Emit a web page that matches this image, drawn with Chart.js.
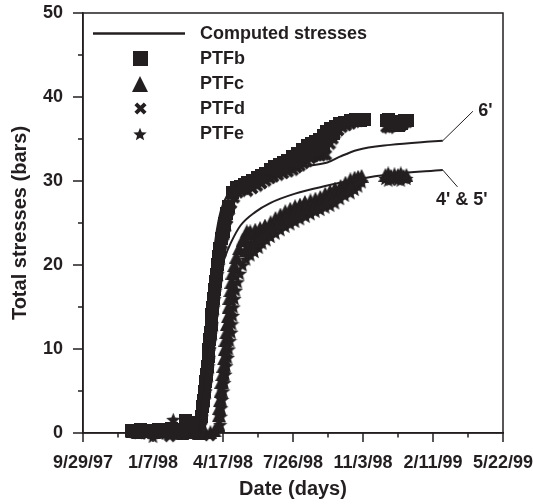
<!DOCTYPE html>
<html>
<head>
<meta charset="utf-8">
<script src="https://cdn.jsdelivr.net/npm/chart.js@4.4.1/dist/chart.umd.min.js"></script>
<style>
  body { margin: 0; background: #fff; }
  canvas { display: block; }
</style>
</head>
<body>
<canvas id="chart" width="533" height="504"></canvas>
<script>
// x values are days counted from 9/29/97
const dateLabels = ['9/29/97', '1/7/98', '4/17/98', '7/26/98', '11/3/98', '2/11/99', '5/22/99'];

// PTFb - squares (upper band: baseline, rise, top edge, late cluster, middle)
const ptfbDays = [69, 75, 82, 88, 95, 101, 108, 114, 121, 127, 134, 140, 147, 153, 160, 166,
  167, 168.6, 170.2, 171.9, 173.7, 175.4, 176.3, 177.7, 178.9, 179.9, 181, 182, 183, 184.1, 185.3, 186.3, 187.7, 189.1, 190.6, 192.1, 194, 195.7, 197.6, 200.1, 202.7, 205.3, 207.9, 213, 219,
  225, 230, 235, 242, 249, 255, 261, 268, 274, 280, 286, 292, 299, 306, 313, 320, 326, 332, 338, 343, 348, 353, 360, 367, 374, 382, 389, 396, 402,
  433, 437, 441, 446, 451, 455, 459, 463,
  306, 313, 320, 326, 332, 338, 343, 348, 353, 358];
const ptfbVals = [0.3, 0.2, 0.4, 0.2, 0.3, 0.2, 0.4, 0.3, 0.2, 0.5, 0.3, 0.4, 1.5, 1.3, 0.6, 0.4,
  1.1, 2.0, 3.1, 3.9, 5.0, 6.1, 7.0, 7.9, 9.1, 10.0, 11.1, 12.0, 12.9, 14.1, 15.0, 16.0, 17.1, 18.0, 18.9, 20.1, 21.0, 22.0, 23.1, 24.0, 25.0, 26.1, 27.0, 28.6, 29.2,
  29.4, 29.6, 29.8, 30.1, 30.4, 30.7, 30.9, 31.4, 31.7, 32.0, 32.2, 32.4, 32.9, 33.3, 33.8, 34.2, 34.5, 34.7, 35.0, 35.4, 35.9, 36.2, 36.5, 36.8, 37.0, 37.2, 37.3, 37.2, 37.3,
  37.2, 37.3, 37.1, 36.8, 36.6, 36.9, 37.2, 37.2,
  32.5, 33.0, 33.3, 33.7, 33.9, 34.2, 34.3, 34.8, 35.3, 35.7];

// PTFc - triangles (lower band: baseline, rise, top edge, late cluster, middle)
const ptfcDays = [70, 78, 86, 94, 102, 110, 118, 126, 134, 142, 150, 158, 166, 174, 182, 188,
  193.5, 194, 194.5, 195.5, 196.5, 197.5, 199, 200.5, 201.5, 202.5, 203.5, 204.7, 205.7, 206.9, 208, 209, 210.5, 212, 213.5, 216, 219, 223, 228, 231, 234, 237,
  239, 246, 253, 260, 268, 275, 282, 289, 296, 303, 310, 317, 325, 332, 339, 346, 353, 360, 368, 375, 382, 388, 393, 398,
  432, 436, 440, 445, 450, 454, 458, 462,
  232, 240, 247, 253, 260, 268, 275, 282, 289, 296, 303, 310, 318, 325, 332, 339, 346, 353, 360, 368, 375, 382];
const ptfcVals = [0.2, 0.1, 0.3, 0.2, 0.1, 0.3, 0.2, 0.1, 0.2, 0.0, 0.1, 0.2, 0.0, 0.2, 0.1, 0.3,
  1.0, 2.1, 3.0, 3.9, 5.0, 6.1, 7.0, 8.0, 8.9, 10.0, 11.1, 12.0, 13.0, 13.9, 15.0, 16.1, 17.0, 18.0, 19.1, 20.0, 21.0, 22.0, 23.0, 23.3, 24.0, 23.8,
  24.0, 24.2, 24.4, 24.7, 25.1, 25.6, 26.0, 26.4, 26.7, 27.0, 27.2, 27.5, 27.7, 27.9, 28.1, 28.5, 28.8, 29.1, 29.4, 29.8, 30.2, 30.4, 30.5, 30.6,
  30.7, 30.9, 30.6, 30.8, 30.7, 30.9, 30.6, 30.7,
  21.8, 22.5, 23.0, 23.5, 24.0, 24.5, 25.0, 25.3, 25.6, 25.9, 26.2, 26.5, 26.8, 27.0, 27.2, 27.4, 27.7, 28.0, 28.3, 28.7, 29.0, 29.4];

// PTFd - crosses (upper band: baseline, rise, bottom edge, late cluster)
const ptfdDays = [72, 79, 85, 92, 98, 105, 111, 118, 124, 131, 137, 144, 150, 157, 163, 169, 175, 181,
  167.5, 169.5, 171, 172.8, 174.5, 176.2, 177.5, 178.8, 180, 181.2, 182.2, 183.3, 184.3, 185.4, 186.5, 187.6, 188.8, 190.2, 191.7, 193.2, 195, 196.8, 198.8, 201.2, 203.8, 206.4, 209, 212, 216, 221,
  225, 230, 235, 242, 249, 255, 261, 267, 272, 279, 286, 293, 300, 305, 310, 315, 320, 325, 329, 334, 339, 344, 347.5, 353, 357, 360, 365, 370, 376, 382, 388, 393, 398, 402,
  433, 437, 441, 446, 451, 455, 459, 463];
const ptfdVals = [0.1, 0.0, 0.1, -0.1, 0.0, 0.1, 0.0, -0.1, -0.4, -0.8, -0.9, -1.0, -0.9, -1.0, -0.9, -0.8, -0.6, -0.3,
  0.5, 1.5, 2.5, 3.5, 4.5, 5.5, 6.5, 7.5, 8.5, 9.5, 10.5, 11.5, 12.5, 13.5, 14.5, 15.5, 16.5, 17.5, 18.5, 19.5, 20.5, 21.5, 22.5, 23.5, 24.5, 25.5, 26.5, 27.3, 28.0, 28.6,
  29.3, 29.0, 28.8, 29.1, 29.4, 29.7, 30.0, 30.3, 30.5, 30.7, 30.9, 31.1, 31.3, 31.6, 31.8, 32.1, 32.3, 32.7, 32.9, 33.0, 33.0, 33.1, 33.1, 34.4, 35.0, 35.6, 36.0, 36.4, 36.6, 36.8, 37.0, 37.1, 37.2, 37.3,
  36.4, 36.3, 36.5, 36.7, 36.8, 36.6, 36.9, 37.0];

// PTFe - stars (lower band: baseline, rise, bottom edge, late cluster)
const ptfeDays = [67, 100, 129, 136, 171, 186,
  196, 197, 197.6, 199, 200.5, 202, 203.5, 205, 207, 208.5, 210, 212, 213, 214.2, 215.2, 216.5, 218.5, 221, 224, 228, 233,
  239, 245, 251, 256, 262, 268, 275, 282, 289, 296, 303, 310, 318, 325, 332, 339, 346, 353, 360, 367, 374, 382, 388, 393, 398,
  432, 436, 440, 445, 450, 454, 458, 462];
const ptfeVals = [-0.9, -0.4, 1.6, -0.9, -1.0, -0.6,
  1.0, 2.0, 3.0, 4.0, 5.0, 6.0, 7.0, 8.0, 9.0, 10.0, 11.0, 12.0, 13.0, 14.0, 15.0, 16.0, 17.0, 18.0, 19.0, 20.0, 20.7,
  21.2, 21.6, 22.1, 22.6, 23.0, 23.4, 23.8, 24.2, 24.6, 24.9, 25.2, 25.5, 25.8, 26.1, 26.4, 26.6, 26.9, 27.1, 27.4, 27.9, 28.3, 28.6, 29.0, 29.4, 29.9,
  30.3, 30.1, 30.2, 30.4, 30.2, 30.1, 30.4, 30.3];

// computed stresses
const comp6Days = [166, 172, 178, 184, 190, 197, 206, 220, 240, 270, 310, 349, 367, 392, 439, 496, 514];
const comp6Vals = [0, 6, 13, 19, 23.5, 26.5, 28.3, 29.5, 30.3, 31.0, 31.7, 32.2, 32.9, 33.7, 34.3, 34.7, 34.8];
const comp45Days = [166, 172, 178, 185, 195, 203, 211, 225, 246, 268, 303, 346, 392, 439, 514];
const comp45Vals = [0, 5, 10, 15, 19, 21, 22.6, 24.7, 26.3, 27.4, 28.5, 29.4, 30.2, 30.8, 31.3];

// depth notes with leader lines
const noteTexts = ["6'", "4' & 5'"];
const noteFromDays = [514, 514];
const noteFromVals = [34.8, 31.3];
const noteToDays = [557, 535];
const noteToVals = [38.3, 29.3];
const noteTextDays = [575, 541];
const noteTextVals = [38.3, 27.7];

const ink = '#231f20';
const fontFam = "'Liberation Sans', Arial, sans-serif";

function pts(days, vals) {
  return days.map((d, i) => ({ x: d, y: vals[i] }));
}

function marker(kind, size) {
  const c = document.createElement('canvas');
  c.width = size; c.height = size;
  const g = c.getContext('2d');
  g.fillStyle = ink; g.strokeStyle = ink;
  if (kind === 'square') {
    g.fillRect(0, 0, size, size);
  } else if (kind === 'triangle') {
    g.beginPath(); g.moveTo(size / 2, 0); g.lineTo(size, size); g.lineTo(0, size); g.closePath(); g.fill();
  } else if (kind === 'cross') {
    const p = size * 0.14;
    g.lineWidth = size * 0.3;
    g.beginPath(); g.moveTo(p, p); g.lineTo(size - p, size - p); g.moveTo(size - p, p); g.lineTo(p, size - p); g.stroke();
  } else {
    const r = size / 2, ri = r * 0.44, cx = size / 2, cy = size / 2 + size * 0.05;
    g.beginPath();
    for (let i = 0; i < 10; i++) {
      const a = -Math.PI / 2 + i * Math.PI / 5;
      const rr = i % 2 ? ri : r;
      g.lineTo(cx + rr * Math.cos(a), cy + rr * Math.sin(a));
    }
    g.closePath(); g.fill();
  }
  return c;
}

function scatterSet(label, days, vals, kind, size, legendSize) {
  return {
    type: 'scatter', label, data: pts(days, vals),
    pointStyle: marker(kind, size), legendMark: marker(kind, legendSize),
    borderColor: ink, backgroundColor: ink, clip: false
  };
}

function lineSet(label, days, vals, inLegend) {
  return {
    type: 'line', label, data: pts(days, vals), inLegend,
    borderColor: ink, borderWidth: 2, pointRadius: 0, fill: false,
    cubicInterpolationMode: 'monotone'
  };
}

const frameAndTicks = {
  id: 'frameAndTicks',
  beforeDatasetsDraw(chart) {
    const { ctx, chartArea: a, scales: { x, y } } = chart;
    ctx.save();
    ctx.strokeStyle = ink; ctx.lineWidth = 1.5;
    ctx.strokeRect(a.left, a.top, a.right - a.left, a.bottom - a.top);
    ctx.beginPath();
    for (let v = x.min; v <= x.max; v += 50) {
      const px = x.getPixelForValue(v);
      ctx.moveTo(px, a.bottom); ctx.lineTo(px, a.bottom + (v % 100 === 0 ? 9 : 4.5));
    }
    for (let v = y.min; v <= y.max; v += 5) {
      const py = y.getPixelForValue(v);
      ctx.moveTo(a.left, py); ctx.lineTo(a.left - (v % 10 === 0 ? 10 : 5), py);
    }
    ctx.stroke();
    ctx.restore();
  }
};

const legendInside = {
  id: 'legendInside',
  afterDraw(chart) {
    const { ctx, chartArea: a } = chart;
    ctx.save();
    ctx.font = 'bold 18px ' + fontFam;
    ctx.fillStyle = ink; ctx.strokeStyle = ink;
    ctx.textBaseline = 'middle';
    let row = 0;
    chart.data.datasets.forEach(ds => {
      if (ds.type === 'line' && !ds.inLegend) return;
      const cy = a.top + 20.5 + row * 25;
      if (ds.type === 'line') {
        ctx.lineWidth = 2.5;
        ctx.beginPath(); ctx.moveTo(a.left + 10, cy); ctx.lineTo(a.left + 102, cy); ctx.stroke();
      } else {
        const m = ds.legendMark;
        ctx.drawImage(m, Math.round(a.left + 57 - m.width / 2), Math.round(cy - m.height / 2));
      }
      ctx.fillText(ds.label, a.left + 117, cy + 1);
      row++;
    });
    ctx.restore();
  }
};

const depthNotes = {
  id: 'depthNotes',
  afterDraw(chart) {
    const { ctx, scales: { x, y } } = chart;
    ctx.save();
    ctx.strokeStyle = ink; ctx.fillStyle = ink; ctx.lineWidth = 1;
    ctx.font = 'bold 18px ' + fontFam;
    ctx.textAlign = 'center'; ctx.textBaseline = 'middle';
    noteTexts.forEach((t, i) => {
      ctx.beginPath();
      ctx.moveTo(x.getPixelForValue(noteFromDays[i]), y.getPixelForValue(noteFromVals[i]));
      ctx.lineTo(x.getPixelForValue(noteToDays[i]), y.getPixelForValue(noteToVals[i]));
      ctx.stroke();
      ctx.fillText(t, x.getPixelForValue(noteTextDays[i]), y.getPixelForValue(noteTextVals[i]));
    });
    ctx.restore();
  }
};

const tickFont = { family: fontFam, size: 18, weight: 'bold' };
const titleFont = { family: fontFam, size: 20, weight: 'bold' };

new Chart(document.getElementById('chart').getContext('2d'), {
  data: {
    datasets: [
      lineSet('Computed stresses', comp6Days, comp6Vals, true),
      lineSet('Computed 4-5', comp45Days, comp45Vals, false),
      scatterSet('PTFb', ptfbDays, ptfbVals, 'square', 13, 15),
      scatterSet('PTFc', ptfcDays, ptfcVals, 'triangle', 14, 16),
      scatterSet('PTFd', ptfdDays, ptfdVals, 'cross', 13, 13),
      scatterSet('PTFe', ptfeDays, ptfeVals, 'star', 15, 14)
    ]
  },
  options: {
    responsive: false,
    animation: false,
    layout: { padding: { top: 13, right: 30, left: 0, bottom: 0 } },
    plugins: { legend: { display: false }, tooltip: { enabled: false } },
    scales: {
      x: {
        type: 'linear', position: 'bottom', min: 0, max: 600,
        afterFit: s => { s.height = 71; s.paddingLeft = 0; s.paddingRight = 0; },
        grid: { display: false, drawTicks: false },
        border: { display: true, color: ink, width: 1.5 },
        ticks: {
          stepSize: 100, autoSkip: false, maxRotation: 0, padding: 19,
          color: ink, font: tickFont,
          callback: v => dateLabels[v / 100]
        },
        title: { display: true, text: 'Date (days)', color: ink, font: titleFont, padding: { bottom: 3 } }
      },
      y: {
        min: 0, max: 50,
        afterFit: s => { s.width = 83; s.paddingTop = 0; s.paddingBottom = 0; },
        grid: { display: false, drawTicks: false },
        border: { display: true, color: ink, width: 1.5 },
        ticks: { stepSize: 10, padding: 20, color: ink, font: tickFont },
        title: { display: true, text: 'Total stresses (bars)', color: ink, font: titleFont, padding: { top: 8 } }
      }
    }
  },
  plugins: [frameAndTicks, legendInside, depthNotes]
});
</script>
</body>
</html>
